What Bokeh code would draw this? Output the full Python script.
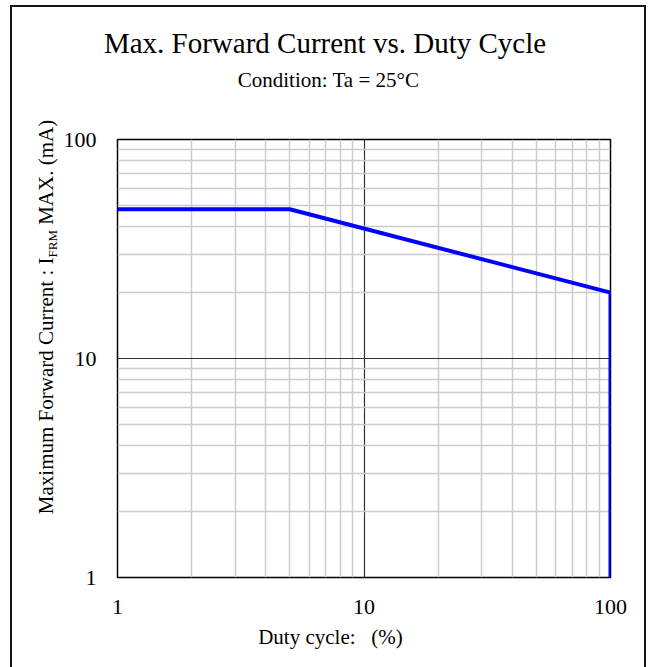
import math
from bokeh.plotting import figure
from bokeh.models import FixedTicker, Label, NumeralTickFormatter, Range1d
from bokeh.embed import file_html
from bokeh.resources import INLINE

# ---- data ----
duty_cycle = [1, 5, 100, 100]
max_current = [48, 48, 20, 1]
x_major = [1, 10, 100]
y_major = [1, 10, 100]
x_minor = [2, 3, 4, 5, 6, 7, 8, 9, 20, 30, 40, 50, 60, 70, 80, 90]
y_minor = [2, 3, 4, 5, 6, 7, 8, 9, 20, 30, 40, 50, 60, 70, 80, 90]
title_text = "Max. Forward Current vs. Duty Cycle"
subtitle_text = "Condition: Ta = 25°C"
xlabel_text = "Duty cycle:\u00a0\u00a0\u00a0(%)"
ylabel_parts = ["Maximum Forward Current : I", "FRM", "MAX. (mA)"]

FONT = "Liberation Serif"
W, H = 651, 667
FL, FR, FT, FB = 117, 610, 139, 577   # frame edges in canvas px

p = figure(width=W, height=H, x_axis_type="log", y_axis_type="log",
           x_range=Range1d(1, 100), y_range=Range1d(1, 100),
           output_backend="svg", toolbar_location=None,
           min_border_left=FL, min_border_right=W - FR,
           min_border_top=FT, min_border_bottom=H - FB)
p.background_fill_color = "white"
p.border_fill_color = None
p.outline_line_color = "#000000"
p.outline_line_width = 1.5
# outer page frame (left, top, right edges) drawn behind the transparent border area
p.styles = {"background": (
    "linear-gradient(#151515,#151515) 10px 5px / 2px 720px no-repeat, "
    "linear-gradient(#151515,#151515) 10px 5px / 636px 2px no-repeat, "
    "linear-gradient(#151515,#151515) 644px 5px / 2px 720px no-repeat, #ffffff")}

p.line(duty_cycle, max_current, line_color="#0000ff", line_width=4)

for ax, ticks in ((p.xaxis[0], x_major), (p.yaxis[0], y_major)):
    ax.ticker = FixedTicker(ticks=ticks)
    ax.formatter = NumeralTickFormatter(format="0")
    ax.major_tick_line_color = None
    ax.minor_tick_line_color = None
    ax.major_tick_out = 0
    ax.major_tick_in = 0
    ax.minor_tick_out = 0
    ax.axis_line_color = None
    ax.major_label_text_font = FONT
    ax.major_label_text_font_size = "22px"
    ax.major_label_text_color = "#000000"
p.xaxis[0].major_label_standoff = 22
p.yaxis[0].major_label_standoff = 21

p.xgrid[0].ticker = FixedTicker(ticks=[10], minor_ticks=x_minor)
p.ygrid[0].ticker = FixedTicker(ticks=[10], minor_ticks=y_minor)
for g in (p.xgrid[0], p.ygrid[0]):
    g.grid_line_color = "#333333"
    g.grid_line_width = 1.2
    g.minor_grid_line_color = "#cccccc"
    g.minor_grid_line_width = 1.5

K = 0.36  # baseline offset from text middle, in em

def lab(text, x, y, size, side, align="center", angle=0.0):
    # (x, y): baseline point; converted to the text's middle line
    if angle:
        x = x - K * size
    else:
        y = y - K * size
    p.add_layout(Label(x=x, y=y, x_units="canvas", y_units="canvas", text=text,
                       text_font=FONT, text_font_size=f"{size}px", text_color="#000000",
                       text_align=align, text_baseline="middle", angle=angle), side)

lab(title_text, 324.5, 53, 29, "above")
lab(subtitle_text, 328, 87, 21, "above")
lab(xlabel_text, 330, 644, 21, "above")

# y label with subscript, rotated
widths = {"M": 889, "a": 444, "x": 500, "i": 278, "m": 778, "u": 500, " ": 250, "F": 556,
          "o": 500, "r": 333, "w": 722, "d": 500, "C": 667, "e": 444, "n": 500, "t": 278,
          ":": 278, "I": 333, "R": 667, "A": 722, "X": 722, ".": 250, "(": 333, ")": 333}
def tw(s, size):
    return sum(widths.get(c, 500) for c in s) / 1000.0 * size
big, small = 21, 13
l1 = tw(ylabel_parts[0], big)
l2 = tw(ylabel_parts[1], small)
l3 = tw(" " + ylabel_parts[2], big)
total = l1 + l2 + l3
cy = 316.5
start = cy + total / 2
base_x = 53
lab(ylabel_parts[0], base_x, start, big, "left", "left", math.pi / 2)
lab(ylabel_parts[1], base_x + 4, start - l1, small, "right", "left", math.pi / 2)
lab(ylabel_parts[2], base_x, start - l1 - l2 - tw(" ", big), big, "left", "left", math.pi / 2)

open("out.html", "w").write(file_html(p, INLINE))
